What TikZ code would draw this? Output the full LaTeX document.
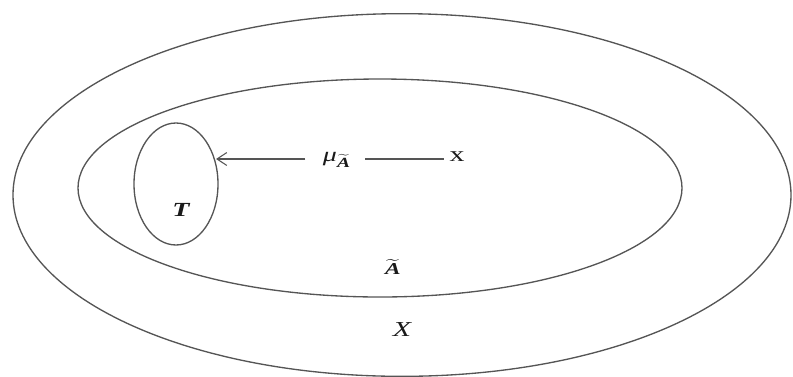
\documentclass[tikz,border=0pt]{standalone}
\usepackage{amsmath,amssymb}
\usepackage{fontspec}
\setmainfont{Liberation Serif}
\usetikzlibrary{arrows.meta,positioning,shapes.geometric}
\definecolor{cLine}{HTML}{555555}
\definecolor{cInk}{HTML}{1A1A1A}
\newcommand{\wideA}{\widetilde{\text{\bfseries\itshape A}}}
\newcommand{\stretchx}[1]{\scalebox{1.4}[1]{#1}}
\tikzset{
  setline/.style={ellipse,draw=cLine,line width=1pt,inner sep=0pt},
  maparrow/.style={-{Straight Barb[length=2.6mm,width=3.4mm]},line width=0.8pt,draw=cLine},
  mapline/.style={line width=0.8pt,draw=cLine},
  setlabel/.style={text=cInk,inner sep=0pt},
  maplabel/.style={text=cInk,inner sep=0pt}
}
\begin{document}
\begin{tikzpicture}[x=0.75pt,y=-0.75pt]
  \useasboundingbox (0,0) rectangle (793,376);
  % universe and fuzzy set (sizes in pt = 0.75 x pixels)
  \node[setline,minimum width=583.5pt,minimum height=272pt] (univ) at (402,195) {};
  \node[setline,minimum width=453pt,minimum height=163.5pt] (fuzzy) at (380,188) {};
  \node[setline,minimum width=63pt,minimum height=91.5pt] (tset) at (176,184) {};

  \node[setlabel,font=\fontsize{15}{15}\selectfont] (lblT) at (181,210)
    {\stretchx{\bfseries\itshape T}};
  \node[setlabel,font=\fontsize{12.5}{12.5}\selectfont] (lblA) at (393,267)
    {\stretchx{$\wideA$}};
  \node[setlabel,font=\fontsize{16}{16}\selectfont] (lblX) at (402,330)
    {\stretchx{\itshape X}};

  % membership map
  \node[maplabel,font=\fontsize{15}{15}\selectfont] (mu) at (337,160)
    {\stretchx{$\text{\itshape μ}_{\wideA}$}};
  \node[maplabel,font=\fontsize{16}{16}\selectfont] (pt) at (457,157)
    {\stretchx{x}};
  \coordinate (tip) at (216,159);
  \draw[maparrow,shorten <=13pt] (mu.west |- tip) -- (tip);
  \draw[mapline,shorten <=4pt,shorten >=10pt] (pt.west |- tip) -- (mu.east |- tip);
\end{tikzpicture}
\end{document}
